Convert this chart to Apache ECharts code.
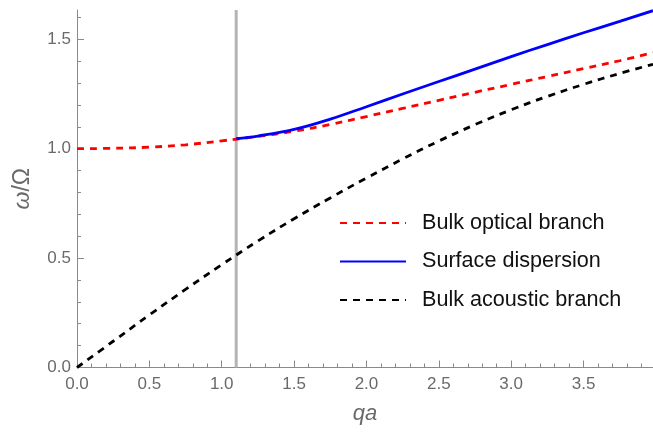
<!DOCTYPE html>
<html>
<head>
<meta charset="utf-8">
<script src="https://cdn.jsdelivr.net/npm/echarts@6/dist/echarts.min.js"></script>
<style>
html,body{margin:0;padding:0;background:#fff;}
#chart{width:653px;height:436px;}
</style>
</head>
<body>
<div id="chart"></div>
<script>
// ---- data ----
const qBulk = [0, 0.25, 0.5, 0.75, 1.0, 1.25, 1.5, 1.75, 2.0, 2.25, 2.5, 2.75, 3.0, 3.25, 3.5, 3.75, 3.98];
const opticalBranch = [1.000, 1.002, 1.007, 1.018, 1.036, 1.056, 1.080, 1.111, 1.147, 1.184, 1.221, 1.258, 1.294, 1.330, 1.366, 1.402, 1.439];
const acousticBranch = [0.000, 0.120, 0.240, 0.357, 0.470, 0.578, 0.680, 0.775, 0.866, 0.953, 1.035, 1.110, 1.178, 1.239, 1.294, 1.344, 1.386];
const qSurface = [1.1, 1.25, 1.5, 1.75, 2.0, 2.25, 2.5, 2.75, 3.0, 3.25, 3.5, 3.75, 3.98];
const surfaceDispersion = [1.046, 1.058, 1.088, 1.135, 1.192, 1.250, 1.307, 1.364, 1.421, 1.476, 1.530, 1.582, 1.631];
const cutoffQ = 1.1;
const xMajorTicks = [0, 0.5, 1.0, 1.5, 2.0, 2.5, 3.0, 3.5];
const xMinorTicks = [0.1,0.2,0.3,0.4,0.6,0.7,0.8,0.9,1.1,1.2,1.3,1.4,1.6,1.7,1.8,1.9,2.1,2.2,2.3,2.4,2.6,2.7,2.8,2.9,3.1,3.2,3.3,3.4,3.6,3.7,3.8,3.9];
const yMajorTicks = [0, 0.5, 1.0, 1.5];
const yMinorTicks = [0.1,0.2,0.3,0.4,0.6,0.7,0.8,0.9,1.1,1.2,1.3,1.4,1.6];
const xMax = 3.98, yMax = 1.634;
const seriesNames = ['Bulk optical branch', 'Surface dispersion', 'Bulk acoustic branch'];

const zip = (xs, ys) => xs.map((x, i) => [x, ys[i]]);
const axisGray = '#8a8a8a';
const labelGray = '#6a6a6a';
const font = 'Arial, "Liberation Sans", sans-serif';

const chart = echarts.init(document.getElementById('chart'), null, {renderer: 'canvas'});
const commonX = {type: 'value', min: 0, max: xMax, position: 'bottom', gridIndex: 0, splitLine: {show: false}};
const commonY = {type: 'value', min: 0, max: yMax, position: 'left', gridIndex: 0, splitLine: {show: false}};
chart.setOption({
  animation: false,
  backgroundColor: '#fff',
  grid: {left: 77, right: 0, top: 10, bottom: 68.5, containLabel: false},
  xAxis: [
    Object.assign({}, commonX, {
      name: 'qa', nameLocation: 'middle', nameGap: 35,
      nameTextStyle: {fontFamily: font, fontSize: 22, fontStyle: 'italic', color: labelGray},
      axisLine: {show: true, onZero: false, lineStyle: {color: axisGray, width: 1}},
      axisTick: {show: true, inside: true, length: 7, customValues: xMajorTicks, lineStyle: {color: axisGray}},
      axisLabel: {show: true, customValues: xMajorTicks, margin: 8, fontFamily: font, fontSize: 17, color: labelGray,
        formatter: v => Number(v).toFixed(1)}
    }),
    Object.assign({}, commonX, {
      axisLine: {show: false, onZero: false},
      axisTick: {show: true, inside: true, length: 4, customValues: xMinorTicks, lineStyle: {color: axisGray}},
      axisLabel: {show: false}
    })
  ],
  yAxis: [
    Object.assign({}, commonY, {
      name: '{it|ω}/Ω', nameLocation: 'middle', nameGap: 43, nameRotate: 90,
      nameTextStyle: {fontFamily: font, fontSize: 23, color: labelGray,
        rich: {it: {fontFamily: font, fontSize: 23, fontStyle: 'italic', color: labelGray}}},
      axisLine: {show: true, onZero: false, lineStyle: {color: axisGray, width: 1}},
      axisTick: {show: true, inside: true, length: 7, customValues: yMajorTicks, lineStyle: {color: axisGray}},
      axisLabel: {show: true, customValues: yMajorTicks, margin: 6, fontFamily: font, fontSize: 17, color: labelGray,
        formatter: v => Number(v).toFixed(1)}
    }),
    Object.assign({}, commonY, {
      axisLine: {show: false, onZero: false},
      axisTick: {show: true, inside: true, length: 4, customValues: yMinorTicks, lineStyle: {color: axisGray}},
      axisLabel: {show: false}
    })
  ],
  legend: {
    orient: 'vertical', left: 334, top: 207,
    itemWidth: 66, itemHeight: 16, itemGap: 16.5,
    data: seriesNames,
    itemStyle: {opacity: 0},
    textStyle: {fontFamily: font, fontSize: 21.6, lineHeight: 16, color: '#111', padding: [0, 0, 0, 11]},
    selectedMode: false
  },
  series: [
    {
      name: 'cutoff', type: 'line', data: [[cutoffQ, 0], [cutoffQ, yMax]],
      symbol: 'none', silent: true, lineStyle: {color: '#b4b4b4', width: 3}, z: 1
    },
    {
      name: seriesNames[0], type: 'line', data: zip(qBulk, opticalBranch), smooth: 0.4,
      symbol: 'none', lineStyle: {color: '#ff0000', width: 2.8, type: [7, 6]}, itemStyle: {color: '#ff0000'}, z: 2
    },
    {
      name: seriesNames[2], type: 'line', data: zip(qBulk, acousticBranch), smooth: 0.4,
      symbol: 'none', lineStyle: {color: '#000000', width: 2.8, type: [7, 6]}, itemStyle: {color: '#000000'}, z: 2
    },
    {
      name: seriesNames[1], type: 'line', data: zip(qSurface, surfaceDispersion), smooth: 0.4,
      symbol: 'none', lineStyle: {color: '#0000ff', width: 2.8, type: 'solid'}, itemStyle: {color: '#0000ff'}, z: 3
    }
  ]
});
</script>
</body>
</html>
